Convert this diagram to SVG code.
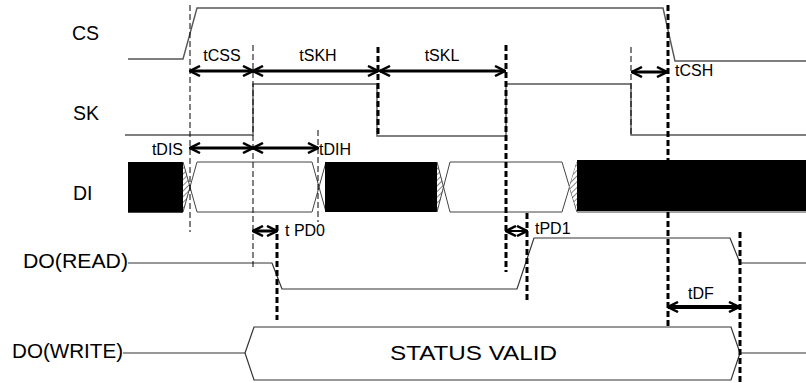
<svg xmlns="http://www.w3.org/2000/svg" width="806" height="383" viewBox="0 0 806 383">
<style>
.sig{fill:none;stroke:#555;stroke-width:1.4}
.do{fill:none;stroke:#333;stroke-width:1.2}
.dil{fill:none;stroke:#444;stroke-width:1}
.lbl{font-family:"Liberation Sans",Arial,sans-serif;font-size:19.5px;fill:#000}
.t{font-family:"Liberation Sans",Arial,sans-serif;font-size:16px;fill:#000}
.thin{stroke:#000;stroke-width:1;stroke-dasharray:6 3;fill:none}
.thick{stroke:#000;stroke-width:3;stroke-dasharray:6 3;fill:none}
.arr{stroke:#000;stroke-width:3;fill:none;marker-start:url(#ah);marker-end:url(#ah)}
</style>
<defs>
<marker id="ah" viewBox="0 0 12 12" refX="11" refY="6" markerWidth="12" markerHeight="12" markerUnits="userSpaceOnUse" orient="auto-start-reverse"><path d="M1,1 L11,6 L1,11" fill="none" stroke="#000" stroke-width="2.5"/></marker>
<pattern id="hatch" width="4" height="4" patternUnits="userSpaceOnUse" patternTransform="rotate(45)"><rect width="4" height="4" fill="#fff"/><line x1="0" y1="0" x2="0" y2="4" stroke="#666" stroke-width="1.6"/></pattern>
</defs>
<rect width="806" height="383" fill="#fff"/>

<g id="CS">
<text class="lbl" x="72" y="40">CS</text>
<polyline class="sig" points="128,59 183,59 197,8 663,8 675,61 806,61"/>
</g>
<g id="SK">
<text class="lbl" x="73" y="120">SK</text>
<polyline class="sig" points="125,135 253,135 253,84 377,84 377,136 506,136 506,84 631,84 631,135 806,135"/>
</g>
<g id="DI">
<text class="lbl" x="73" y="200">DI</text>
<rect x="128" y="162" width="55" height="50" fill="#000"/>
<polygon points="183,162 190,187 183,212" fill="url(#hatch)"/>
<path class="dil" d="M183,162 L197,212 M183,212 L197,162 M197,162 H312 M197,212 H312 M312,162 L326,212 M312,212 L326,162"/>
<rect x="325" y="162" width="112" height="50" fill="#000"/>
<polygon points="437,162 443.5,187 437,212" fill="url(#hatch)"/>
<path class="dil" d="M437,162 L450,212 M437,212 L450,162 M450,162 H562 M450,212 H562 M562,162 L577,212 M562,212 L577,162"/>
<polygon points="577,161 569.5,187 577,211" fill="url(#hatch)"/>
<rect x="577" y="160" width="229" height="51" fill="#000"/>
<path class="dil" d="M128,212.5 H183 M577,212 H806"/>
</g>
<g id="DO_READ">
<text class="lbl" x="23" y="268" font-size="20" textLength="105" lengthAdjust="spacingAndGlyphs">DO(READ)</text>
<polyline class="do" points="128,263 272,263 282,289 517,289 534,238 730,238 740,263 806,263"/>
</g>
<g id="DO_WRITE">
<text class="lbl" x="12" y="358" font-size="20" textLength="111" lengthAdjust="spacingAndGlyphs">DO(WRITE)</text>
<path class="do" d="M123,353 H245 M740,353 H806"/>
<polygon class="do" points="245,353 254,327 731,327 740,353 731,380 254,380"/>
<text class="lbl" x="390" y="360" font-size="22" textLength="167" lengthAdjust="spacingAndGlyphs">STATUS VALID</text>
</g>

<g id="connectors">
<line class="thin" x1="190" y1="5" x2="190" y2="232"/>
<line class="thin" x1="253" y1="45" x2="253" y2="270"/>
<line class="thin" x1="318" y1="130" x2="318" y2="222"/>
<line class="thin" x1="631" y1="47" x2="631" y2="135"/>
<line class="thick" x1="378" y1="47" x2="378" y2="136"/>
<line class="thick" x1="506" y1="45" x2="506" y2="272"/>
<line class="thick" x1="668" y1="5" x2="668" y2="328"/>
<line class="thick" x1="277" y1="225" x2="277" y2="320"/>
<line class="thick" x1="527" y1="213" x2="527" y2="300"/>
<line class="thick" x1="740" y1="232" x2="740" y2="383"/>

<line class="arr" x1="190" y1="71" x2="253" y2="71"/>
<line class="arr" x1="253" y1="71" x2="378" y2="71"/>
<line class="arr" x1="380" y1="71" x2="505" y2="71"/>
<line class="arr" x1="632" y1="72" x2="667" y2="72"/>
<line class="arr" x1="190" y1="148" x2="253" y2="148"/>
<line class="arr" x1="253" y1="148" x2="318" y2="148"/>
<line class="arr" x1="253" y1="231" x2="277" y2="231"/>
<line class="arr" x1="506" y1="231" x2="527" y2="231" style="stroke-width:2"/>
<line class="arr" x1="668" y1="307" x2="739" y2="307" style="stroke-width:4"/>

<text class="t" x="222" y="61" text-anchor="middle">tCSS</text>
<text class="t" x="318" y="61" text-anchor="middle">tSKH</text>
<text class="t" x="442" y="61" text-anchor="middle">tSKL</text>
<text class="t" x="675" y="76">tCSH</text>
<text class="t" x="183" y="155" text-anchor="end">tDIS</text>
<text class="t" x="319" y="155">tDIH</text>
<text class="t" x="285" y="236">t PD0</text>
<text class="t" x="535" y="234">tPD1</text>
<text class="t" x="688" y="299">tDF</text>
</g>
</svg>
